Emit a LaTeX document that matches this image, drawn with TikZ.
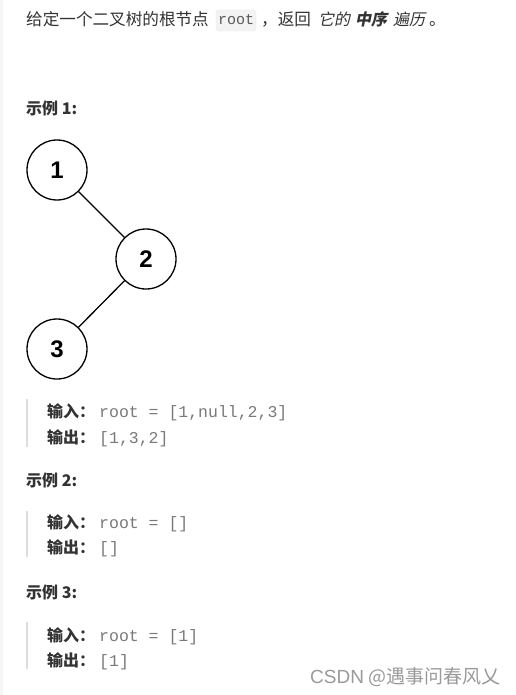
\documentclass[tikz,border=0pt]{standalone}
\usepackage{fontspec}
\setmainfont{Noto Sans CJK SC}
\setmonofont{Liberation Mono}
\newfontfamily\slantcjk[FakeSlant=0.2]{Noto Sans CJK SC}
\newfontfamily\numfont{Liberation Sans}

\definecolor{bodytext}{HTML}{333333}
\definecolor{codetext}{HTML}{7A7A7A}
\definecolor{quotebar}{HTML}{DDDDDD}
\definecolor{codebg}{HTML}{F3F3F3}
\definecolor{codeline}{HTML}{E6E6E6}
\definecolor{markgray}{HTML}{9A9A9A}

\tikzset{
  vertex/.style={circle, draw, line width=1.3pt, minimum size=60pt, inner sep=0pt,
    font=\numfont\bfseries\fontsize{24}{24}\selectfont},
  plain/.style={anchor=base west, inner sep=0pt, text=bodytext,
    font=\fontsize{16.6}{16.6}\selectfont},
  heading/.style={anchor=base west, inner sep=0pt, text=bodytext,
    font=\bfseries\fontsize{16}{16}\selectfont},
  label/.style={anchor=base west, inner sep=0pt, text=bodytext,
    font=\bfseries\fontsize{16}{16}\selectfont},
  code/.style={anchor=base west, inner sep=0pt, text=codetext,
    font=\ttfamily\fontsize{16.5}{16.5}\selectfont},
  bar/.style={quotebar, line width=2.5pt},
}

\begin{document}
\begin{tikzpicture}[x=1pt, y=-1pt]
  \useasboundingbox[fill=white] (0,0) rectangle (515,695);
  \fill[codebg!80] (0,0) rectangle (2.7,695);

  % first line
  \node[plain] (intro) at (26,26) {给定一个二叉树的根节点};
  \draw[codeline, fill=codebg, rounded corners=3pt] (216,10) rectangle (256,31);
  \node[code, text=black!65, font=\ttfamily\fontsize{15}{15}\selectfont] (rootcode) at (218,25) {root};
  \node[plain] (ret) at (261,26) {，返回};
  \node[plain, font=\slantcjk\fontsize{16}{16}\selectfont] (its) at (318,26) {它的};
  \node[plain, font=\slantcjk\bfseries\fontsize{16}{16}\selectfont] (inorder) at (355,26) {中序};
  \node[plain, font=\slantcjk\fontsize{16}{16}\selectfont] (trav) at (393,26) {遍历};
  \node[plain] (stop) at (429,26) {。};

  % example 1
  \node[heading] (ex1) at (26,115) {示例 1:};

  \node[vertex] (n1) at (57,170) {1};
  \node[vertex] (n2) at (146,259) {2};
  \node[vertex] (n3) at (57,349) {3};
  \draw[line width=1.3pt] (n1) -- (n2);
  \draw[line width=1.3pt] (n2) -- (n3);

  \draw[bar] (27,399) -- (27,447);
  \node[label] (in1) at (47,417) {输入：};
  \node[code] (in1v) at (99,417) {root = [1,null,2,3]};
  \node[label] (out1) at (47,443) {输出：};
  \node[code] (out1v) at (99,443) {[1,3,2]};

  % example 2
  \node[heading] (ex2) at (26,486) {示例 2:};
  \draw[bar] (27,511) -- (27,557);
  \node[label] (in2) at (47,528) {输入：};
  \node[code] (in2v) at (99,528) {root = []};
  \node[label] (out2) at (47,553) {输出：};
  \node[code] (out2v) at (99,553) {[]};

  % example 3
  \node[heading] (ex3) at (26,598) {示例 3:};
  \draw[bar] (27,622) -- (27,669);
  \node[label] (in3) at (47,641) {输入：};
  \node[code] (in3v) at (99,641) {root = [1]};
  \node[label] (out3) at (47,666) {输出：};
  \node[code] (out3v) at (99,666) {[1]};

  \node[plain, text=markgray, font=\fontsize{19}{19}\selectfont] (mark) at (310,683)
    {{\numfont CSDN} @遇事问春风乂};
\end{tikzpicture}
\end{document}
